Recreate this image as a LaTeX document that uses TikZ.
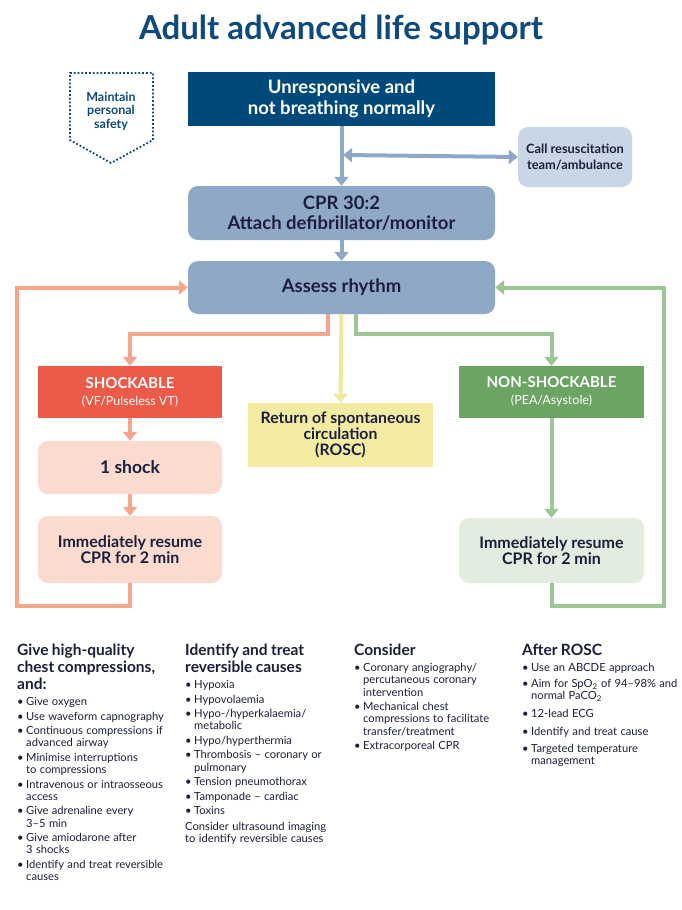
\documentclass[tikz,border=0pt]{standalone}
\usepackage{fontspec}
\setmainfont{Lato}
\usetikzlibrary{arrows.meta,calc}
\definecolor{navy}{HTML}{0E4A7E}
\definecolor{navybox}{HTML}{004A7B}
\definecolor{ink}{HTML}{1C1F3B}
\definecolor{bluebox}{HTML}{8FA8C8}
\definecolor{lightblue}{HTML}{C9D6E8}
\definecolor{shockred}{HTML}{EE5A48}
\definecolor{pinkbox}{HTML}{FBDBCF}
\definecolor{orangeline}{HTML}{F5A68C}
\definecolor{yellowbox}{HTML}{F4EBA3}
\definecolor{yellowline}{HTML}{F2E9A0}
\definecolor{greenbox}{HTML}{6BA463}
\definecolor{lightgreen}{HTML}{E2ECDF}
\definecolor{greenline}{HTML}{9DC695}
\newcommand{\fs}[2]{\fontsize{#1}{#2}\selectfont}
\newcommand{\bitem}[1]{\par\vspace{2.3pt}\noindent\hangindent=9pt\hangafter=1\makebox[9pt][l]{\textbullet}#1}
\begin{document}
\begin{tikzpicture}[x=1pt,y=-1pt,
  box/.style={minimum width=#1, inner sep=0pt, align=center, text=ink, font=\bfseries},
  flow/.style={line width=4pt},
  tip/.style={-{Triangle[width=14pt,length=9pt]}},
  col/.style={anchor=north west, inner sep=0pt, text width=165pt, align=left, text=ink}
]
\useasboundingbox (0,0) rectangle (681,910);
\fill[white] (0,0) rectangle (681,910);

% title
\node[text=navy, font=\fs{33}{38}\bfseries] (title) at (341,30) {Adult advanced life support};

% maintain personal safety
\draw[navy, line width=1.8pt, dotted] (111,163) -- (70,140) -- (70,73) -- (153,73) -- (153,140) -- (111,163);
\node[text=navy, font=\fs{12.5}{13.5}\bfseries, align=center] (safety) at (111,111) {Maintain\\personal\\safety};

% boxes
\node[box=307pt, minimum height=54pt, fill=navybox, text=white, font=\fs{18.5}{20.5}\bfseries] (unresp) at (341.5,99) {Unresponsive and\\not breathing normally};
\node[box=114pt, minimum height=60pt, fill=lightblue, rounded corners=10pt, font=\fs{12.8}{15.5}\bfseries] (call) at (575,157) {Call resuscitation\\team/ambulance};
\node[box=307pt, minimum height=54pt, fill=bluebox, rounded corners=10pt, font=\fs{18.5}{20}\bfseries] (cpr) at (341.5,213) {CPR 30:2\\Attach defibrillator/monitor};
\node[box=307pt, minimum height=53pt, fill=bluebox, rounded corners=10pt, font=\fs{18.5}{20}\bfseries] (assess) at (341.5,287.5) {Assess rhythm};

\node[box=184pt, minimum height=52pt, fill=shockred, text=white] (shock) at (130,392) {\fs{15}{17}\bfseries SHOCKABLE\\[5pt]\fs{12.5}{13}\mdseries (VF/Pulseless VT)};
\node[box=184pt, minimum height=53pt, fill=pinkbox, rounded corners=10pt, font=\fs{17.5}{19}\bfseries] (oneshock) at (130,467.5) {1 shock};
\node[box=184pt, minimum height=67pt, fill=pinkbox, rounded corners=10pt, font=\fs{16}{16.5}\bfseries] (resumeS) at (130,549.5) {Immediately resume\\CPR for 2 min};

\node[box=185pt, minimum height=64pt, fill=yellowbox, font=\fs{15.8}{16}\bfseries] (rosc) at (340.5,435) {Return of spontaneous\\circulation\\(ROSC)};

\node[box=185pt, minimum height=52pt, fill=greenbox, text=white] (nonshock) at (551.5,392) {\fs{15}{17}\bfseries NON-SHOCKABLE\\[5pt]\fs{12.5}{13}\mdseries (PEA/Asystole)};
\node[box=185pt, minimum height=65pt, fill=lightgreen, rounded corners=10pt, font=\fs{16}{16.5}\bfseries] (resumeN) at (551.5,550.5) {Immediately resume\\CPR for 2 min};

% connectors
\coordinate (junction) at (343,155);
\draw[flow, bluebox, tip] (unresp.south) -- (cpr.north);
\draw[flow, bluebox, {Triangle[width=14pt,length=9pt]}-{Triangle[width=14pt,length=9pt]}] (junction) -- (call.west);
\draw[flow, bluebox, tip] (cpr.south) -- (assess.north);

\draw[flow, orangeline, tip] ([xshift=-14pt]assess.south) -- ++(0,20) -| (shock.north);
\draw[flow, yellowline, tip] (assess.south) -- (rosc.north);
\draw[flow, greenline, tip] ([xshift=14pt]assess.south) -- ++(0,20) -| (nonshock.north);

\draw[flow, orangeline, tip] (shock.south) -- (oneshock.north);
\draw[flow, orangeline, tip] (oneshock.south) -- (resumeS.north);
\draw[flow, greenline, tip] (nonshock.south) -- (resumeN.north);

\coordinate (lloop) at (17,606);
\coordinate (rloop) at (664,606);
\draw[flow, orangeline, tip] (resumeS.south) |- (lloop) |- (assess.west);
\draw[flow, greenline, tip] (resumeN.south) |- (rloop) |- (assess.east);

% bottom columns
\node[col] (c1) at (17,644) {%
{\fs{15.5}{17}\bfseries Give high-quality\\chest compressions,\\and:\par}\vspace{1.5pt}
\fs{11.2}{12.2}\selectfont
\bitem{Give oxygen}
\bitem{Use waveform capnography}
\bitem{Continuous compressions if\newline advanced airway}
\bitem{Minimise interruptions\newline to compressions}
\bitem{Intravenous or intraosseous\newline access}
\bitem{Give adrenaline every\newline 3--5 min}
\bitem{Give amiodarone after\newline 3 shocks}
\bitem{Identify and treat reversible\newline causes}\par
};

\node[col] (c2) at (185,644) {%
{\fs{15.5}{17}\bfseries Identify and treat\\reversible causes\par}\vspace{1.5pt}
\fs{11.2}{12.2}\selectfont
\bitem{Hypoxia}
\bitem{Hypovolaemia}
\bitem{Hypo-/hyperkalaemia/\newline metabolic}
\bitem{Hypo/hyperthermia}
\bitem{Thrombosis -- coronary or\newline pulmonary}
\bitem{Tension pneumothorax}
\bitem{Tamponade -- cardiac}
\bitem{Toxins}
\par\vspace{3.5pt}\noindent Consider ultrasound imaging\newline to identify reversible causes\par
};

\node[col] (c3) at (354,644) {%
{\fs{15.5}{17}\bfseries Consider\par}\vspace{1.5pt}
\fs{11.2}{12.2}\selectfont
\bitem{Coronary angiography/\newline percutaneous coronary\newline intervention}
\bitem{Mechanical chest\newline compressions to facilitate\newline transfer/treatment}
\bitem{Extracorporeal CPR}\par
};

\node[col] (c4) at (522,644) {%
{\fs{15.5}{17}\bfseries After ROSC\par}\vspace{1.5pt}
\fs{11.2}{12.2}\selectfont
\bitem{Use an ABCDE approach}
\par\vspace{1.5pt}
\bitem{Aim for SpO\textsubscript{2} of 94--98\% and\newline normal PaCO\textsubscript{2}}
\par\vspace{3.3pt}
\bitem{12-lead ECG}
\par\vspace{3.5pt}
\bitem{Identify and treat cause}
\par\vspace{2.5pt}
\bitem{Targeted temperature\newline management}\par
};
\end{tikzpicture}
\end{document}
